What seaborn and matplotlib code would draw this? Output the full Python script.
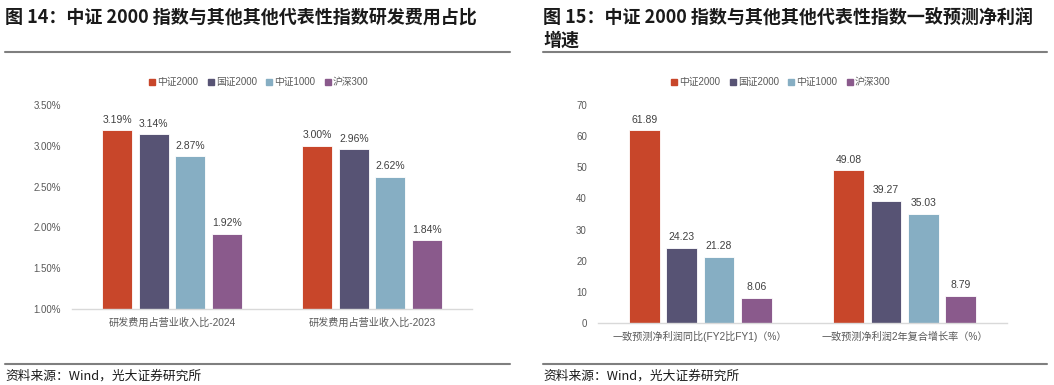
import matplotlib
matplotlib.use("Agg")
import matplotlib.pyplot as plt
import seaborn as sns
import pandas as pd
from matplotlib.lines import Line2D

sns.set_theme(style="white")
plt.rcParams['font.family'] = ['Liberation Sans', 'Noto Sans CJK SC', 'DejaVu Sans']

series = ["中证2000", "国证2000", "中证1000", "沪深300"]
colors = ["#C8462A", "#575374", "#86AEC3", "#8A5A8C"]

left_cats = ["研发费用占营业收入比-2024", "研发费用占营业收入比-2023"]
left_vals = {
    "中证2000": [3.19, 3.00],
    "国证2000": [3.14, 2.96],
    "中证1000": [2.87, 2.62],
    "沪深300": [1.92, 1.84],
}
right_cats = ["一致预测净利润同比(FY2比FY1)（%）", "一致预测净利润2年复合增长率（%）"]
right_vals = {
    "中证2000": [61.89, 49.08],
    "国证2000": [24.23, 39.27],
    "中证1000": [21.28, 35.03],
    "沪深300": [8.06, 8.79],
}
left_title = "图 14：中证 2000 指数与其他其他代表性指数研发费用占比"
right_title = "图 15：中证 2000 指数与其他其他代表性指数一致预测净利润\n增速"
source = "资料来源：Wind，光大证券研究所"

W, H = 1054, 385
fig = plt.figure(figsize=(W / 100, H / 100), dpi=100)


def to_df(cats, vals):
    rows = []
    for s in series:
        for c, v in zip(cats, vals[s]):
            rows.append({"cat": c, "series": s, "val": v})
    return pd.DataFrame(rows)


def axes_px(x0, x1, ytop, ybot):
    return fig.add_axes([x0 / W, 1 - ybot / H, (x1 - x0) / W, (ybot - ytop) / H])


def draw(ax, cats, vals, ylim, ticks, tickfmt, labfmt):
    df = to_df(cats, vals)
    sns.barplot(data=df, x="cat", y="val", hue="series", hue_order=series,
                palette=colors, width=0.73, gap=0.18, ax=ax, legend=False,
                edgecolor="white", linewidth=0.6, saturation=1)
    ax.set_ylim(*ylim)
    ax.set_yticks(ticks)
    ax.set_yticklabels([tickfmt % t for t in ticks], fontsize=7, color="#595959")
    ax.set_xlim(-0.5, len(cats) - 0.5)
    ax.set_xlabel("")
    ax.set_ylabel("")
    ax.tick_params(axis="x", labelsize=7.3, labelcolor="#595959", pad=6, length=0)
    ax.tick_params(axis="y", length=0, pad=8)
    for sp in ["top", "right", "left"]:
        ax.spines[sp].set_visible(False)
    ax.spines["bottom"].set_color("#D9D9D9")
    ax.spines["bottom"].set_linewidth(1)
    ax.set_xticks([-0.5, 0.5, 1.5], minor=True)
    ax.tick_params(axis="x", which="minor", length=3, color="#D9D9D9", direction="in")
    for cont in ax.containers:
        ax.bar_label(cont, fmt=labfmt, padding=4, fontsize=7.5, color="#404040")


axL = axes_px(72, 472, 105, 309)
draw(axL, left_cats, left_vals, (1.0, 3.5), [1.0, 1.5, 2.0, 2.5, 3.0, 3.5], "%.2f%%", "%.2f%%")
axR = axes_px(598, 1007, 105, 323)
draw(axR, right_cats, right_vals, (0, 70), list(range(0, 71, 10)), "%d", "%.2f")

# titles
fig.text(5 / W, 1 - 17 / H, left_title, fontsize=13, fontweight="bold",
         family=['Noto Sans CJK SC'], va="center", ha="left", color="#1a1a1a")
fig.text(543 / W, 1 - 29 / H, right_title, fontsize=13, fontweight="bold",
         family=['Noto Sans CJK SC'], va="center", ha="left", color="#1a1a1a",
         linespacing=1.25)

# separators
for (x0, x1) in [(5, 510), (543, 1047)]:
    for y in (52, 364):
        fig.add_artist(Line2D([x0 / W, x1 / W], [1 - y / H, 1 - y / H],
                              color="#7F7F7F", linewidth=1.5))
    fig.text(x0 / W, 1 - 376 / H, source, fontsize=9.2,
             family=['Noto Sans CJK SC'], va="center", ha="left", color="#1a1a1a")

# legends
handles = [Line2D([], [], marker="s", linestyle="", markersize=5,
                  markerfacecolor=c, markeredgecolor=c) for c in colors]
for cx in (259, 781):
    fig.legend(handles, series, loc="center", bbox_to_anchor=(cx / W, 1 - 82 / H),
               ncol=4, frameon=False, fontsize=7, labelcolor="#595959",
               handlelength=0.6, handletextpad=0.2, columnspacing=1.0,
               borderpad=0, borderaxespad=0)

fig.savefig("out.png", dpi=100)
